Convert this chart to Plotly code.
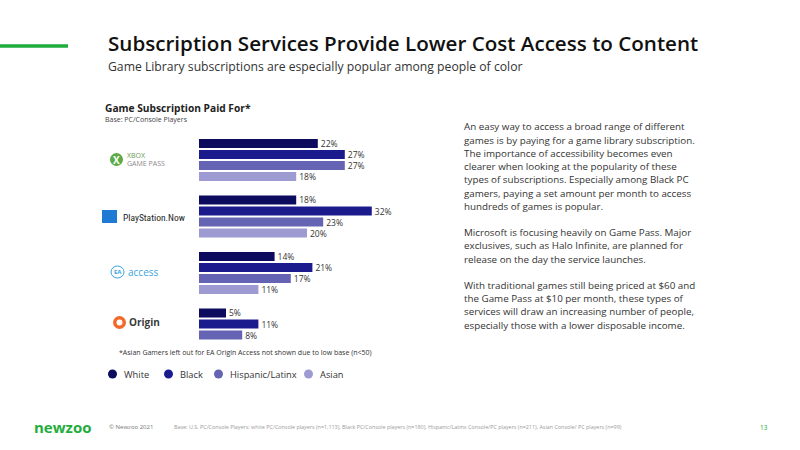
import plotly.graph_objects as go

# ---- data ----
services = ["Xbox Game Pass", "PlayStation Now", "EA Access", "Origin"]
series_names = ["White", "Black", "Hispanic/Latinx", "Asian"]
white = [22, 18, 14, 5]
black = [27, 32, 21, 11]
hispanic = [27, 23, 17, 8]
asian = [18, 20, 11, None]
series_values = [white, black, hispanic, asian]
series_colors = ["#0c0b5e", "#1c1b8e", "#6563b4", "#9d9bd2"]

body_lines = [
    "An easy way to access a broad range of different",
    "games is by paying for a game library subscription.",
    "The importance of accessibility becomes even",
    "clearer when looking at the popularity of these",
    "types of subscriptions. Especially among Black PC",
    "gamers, paying a set amount per month to access",
    "hundreds of games is popular.",
    "",
    "Microsoft is focusing heavily on Game Pass. Major",
    "exclusives, such as Halo Infinite, are planned for",
    "release on the day the service launches.",
    "",
    "With traditional games still being priced at $60 and",
    "the Game Pass at $10 per month, these types of",
    "services will draw an increasing number of people,",
    "especially those with a lower disposable income.",
]

W, H = 800, 450
FONT = "Open Sans"


def px(x):
    return x / W


def py(y):
    return 1 - y / H


fig = go.Figure()
for name, vals, col in zip(series_names, series_values, series_colors):
    fig.add_trace(go.Bar(
        y=services, x=vals, name=name, orientation="h",
        marker=dict(color=col, line=dict(width=0)),
        text=[f"{v}%" if v is not None else "" for v in vals],
        textposition="outside", constraintext="none",
        textfont=dict(family=FONT, size=8.5, color="#333333"),
        cliponaxis=False, showlegend=False,
    ))

x0, ppu, xmax = 199, 5.4, 40
fig.update_layout(
    width=W, height=H, margin=dict(l=0, r=0, t=0, b=0),
    paper_bgcolor="white", plot_bgcolor="white",
    barmode="group", bargap=0.221, bargroupgap=0.18,
    xaxis=dict(domain=[px(x0), px(x0 + ppu * xmax)], range=[0, xmax],
               visible=False, fixedrange=True),
    yaxis=dict(domain=[py(131.75 + 226), py(131.75)], autorange="reversed",
               visible=False, fixedrange=True),
    font=dict(family=FONT, color="#333333"),
)

ann = []
shapes = []

# green accent line
shapes.append(dict(type="line", xref="paper", yref="paper", x0=0, x1=px(68),
                   y0=py(46), y1=py(46), line=dict(color="#1fae3c", width=3.5)))

# title and subtitle
ann.append(dict(text="Subscription Services Provide Lower Cost Access to Content",
                x=px(106), y=py(43), xanchor="left", yanchor="middle",
                font=dict(family=FONT, size=20.6, color="#111111", weight=600)))
ann.append(dict(text="Game Library subscriptions are especially popular among people of color",
                x=px(106), y=py(66.5), xanchor="left", yanchor="middle",
                font=dict(family=FONT, size=12.2, color="#333333")))

# chart heading
ann.append(dict(text="Game Subscription Paid For*", x=px(103), y=py(108),
                xanchor="left", yanchor="middle",
                font=dict(family=FONT, size=10.2, color="#222222", weight=700)))
ann.append(dict(text="Base: PC/Console Players", x=px(103), y=py(119),
                xanchor="left", yanchor="middle",
                font=dict(family=FONT, size=7, color="#444444")))

# logos (approximated with text + shapes)
# Xbox Game Pass
shapes.append(dict(type="circle", xref="paper", yref="paper",
                   x0=px(110), x1=px(123), y0=py(153), y1=py(166),
                   fillcolor="#5dab45", line=dict(width=0)))
ann.append(dict(text="<b>X</b>", x=px(116.5), y=py(159.5), xanchor="center", yanchor="middle",
                font=dict(family=FONT, size=10, color="white")))
ann.append(dict(text="XBOX", x=px(125), y=py(155), xanchor="left", yanchor="middle",
                font=dict(family=FONT, size=7, color="#6b9a56")))
ann.append(dict(text="GAME PASS", x=px(125), y=py(163), xanchor="left", yanchor="middle",
                font=dict(family=FONT, size=7, color="#8a8a8a")))
# PlayStation Now
shapes.append(dict(type="rect", xref="paper", yref="paper",
                   x0=px(102), x1=px(117), y0=py(223), y1=py(210),
                   fillcolor="#1e7ad2", line=dict(width=0)))
ann.append(dict(text="PlayStation.Now", x=px(121), y=py(217), xanchor="left", yanchor="middle",
                font=dict(family="Roboto Condensed, Liberation Sans Narrow, " + FONT, size=9.5,
                          color="#222222")))
# EA Access
shapes.append(dict(type="circle", xref="paper", yref="paper",
                   x0=px(111), x1=px(124), y0=py(278), y1=py(266),
                   fillcolor="white", line=dict(color="#3ba3dc", width=1)))
ann.append(dict(text="<b>EA</b>", x=px(117.5), y=py(272), xanchor="center", yanchor="middle",
                font=dict(family=FONT, size=6, color="#3ba3dc")))
ann.append(dict(text="access", x=px(126), y=py(272), xanchor="left", yanchor="middle",
                font=dict(family=FONT, size=10, color="#3ba3dc")))
# Origin
shapes.append(dict(type="circle", xref="paper", yref="paper",
                   x0=px(113), x1=px(126), y0=py(329), y1=py(316),
                   fillcolor="#f26a2a", line=dict(width=0)))
shapes.append(dict(type="circle", xref="paper", yref="paper",
                   x0=px(116.5), x1=px(122.5), y0=py(325.5), y1=py(319.5),
                   fillcolor="white", line=dict(width=0)))
ann.append(dict(text="<b>Origin</b>", x=px(127), y=py(322), xanchor="left", yanchor="middle",
                font=dict(family=FONT, size=10, color="#3a3a3a")))

# footnote
ann.append(dict(text="*Asian Gamers left out for EA Origin Access not shown due to low base (n<50)",
                x=px(117), y=py(352), xanchor="left", yanchor="middle",
                font=dict(family=FONT, size=7, color="#333333")))

# legend
leg_x = [108, 164, 214, 304]
for name, col, lx in zip(series_names, series_colors, leg_x):
    shapes.append(dict(type="circle", xref="paper", yref="paper",
                       x0=px(lx), x1=px(lx + 9), y0=py(378.5), y1=py(369.5),
                       fillcolor=col, line=dict(width=0)))
    ann.append(dict(text=name, x=px(lx + 14), y=py(374), xanchor="left", yanchor="middle",
                    font=dict(family=FONT, size=9.3, color="#333333")))

# body text
y_start, pitch = 127, 13.2
for i, line in enumerate(body_lines):
    if line:
        ann.append(dict(text=line, x=px(462), y=py(y_start + i * pitch),
                        xanchor="left", yanchor="middle",
                        font=dict(family=FONT, size=9.8, color="#333333")))

# footer
ann.append(dict(text="<b>newzoo</b>", x=px(32), y=py(427), xanchor="left", yanchor="middle",
                font=dict(family=FONT, size=15, color="#1fae3c")))
ann.append(dict(text="© Newzoo 2021", x=px(107), y=py(427), xanchor="left", yanchor="middle",
                font=dict(family=FONT, size=6, color="#777777")))
ann.append(dict(text="Base: U.S. PC/Console Players: white PC/Console players (n=1,113), Black PC/Console players (n=180), "
                     "Hispanic/Latinx Console/PC players (n=211), Asian Console/ PC players (n=99)",
                x=px(172), y=py(427), xanchor="left", yanchor="middle",
                font=dict(family=FONT, size=5.4, color="#9a9a9a")))
ann.append(dict(text="13", x=px(764), y=py(427), xanchor="center", yanchor="middle",
                font=dict(family=FONT, size=6.5, color="#1fae3c")))

for a in ann:
    a.update(xref="paper", yref="paper", showarrow=False)
fig.update_layout(annotations=ann, shapes=shapes)

fig.write_html("out.html")
